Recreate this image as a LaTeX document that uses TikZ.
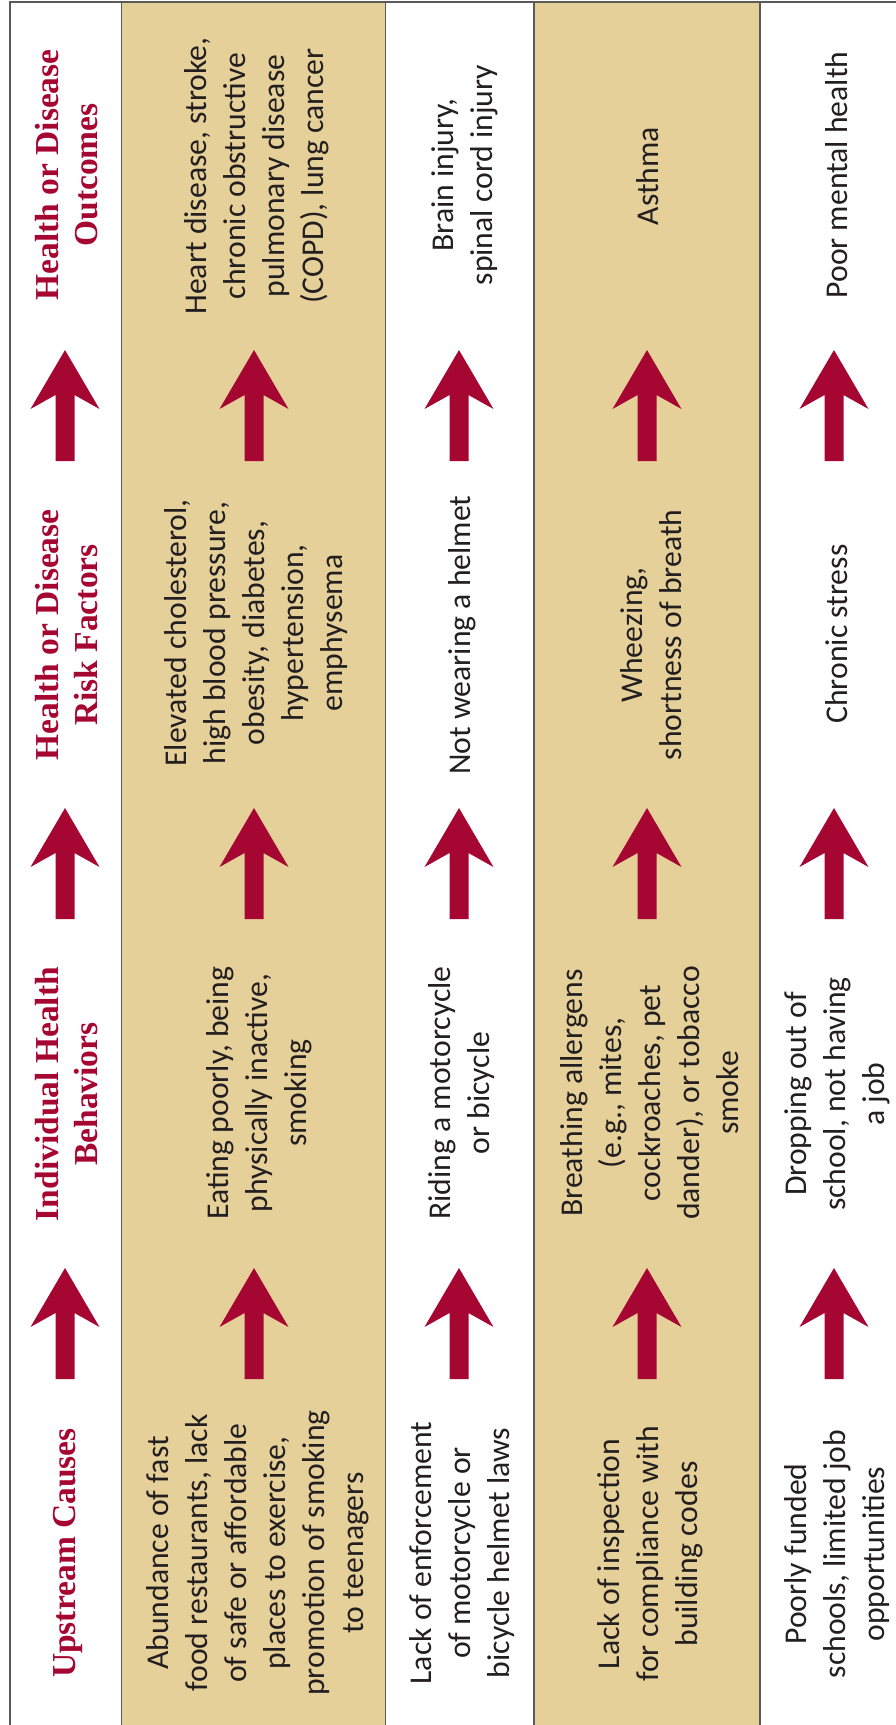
\documentclass[tikz,border=0pt]{standalone}
\usepackage{fontspec}
\setmainfont{Carlito}
\newfontfamily\headfont{Liberation Serif}
\definecolor{tanfill}{RGB}{230,208,153}
\definecolor{arrowred}{RGB}{166,6,50}
\definecolor{gridgray}{RGB}{90,90,90}
\definecolor{bodytext}{RGB}{35,31,32}
\tikzset{
  gridline/.style={draw=gridgray, line width=1.4pt},
  bodytxt/.style={rotate=90, align=center, inner sep=0pt, text=bodytext,
    font=\fontsize{31.7}{39}\selectfont},
  headtxt/.style={rotate=90, align=center, inner sep=0pt, text=arrowred,
    font=\headfont\bfseries\fontsize{33.5}{39}\selectfont},
  uparr/.pic={\fill[arrowred] (0,0) -- (34.5,59) -- (9.5,45) -- (9.5,111)
     -- (-9.5,111) -- (-9.5,45) -- (-34.5,59) -- cycle;}
}
\begin{document}
\begin{tikzpicture}[x=1pt,y=-1pt]
\useasboundingbox (0,0) rectangle (896,1725);
\fill[tanfill] (121.5,2) rectangle (385.5,1725);
\fill[tanfill] (534,2) rectangle (760,1725);
\draw[gridline] (10,1725) -- (10,2) -- (896,2);
\foreach \x in {121.5,385.5,534,760} \draw[gridline] (\x,2) -- (\x,1725);

% header column
\node[headtxt] (h1) at (67,175) {Health or Disease\\Outcomes};
\node[headtxt] (h2) at (67,635) {Health or Disease\\Risk Factors};
\node[headtxt] (h3) at (67,1094) {Individual Health\\Behaviors};
\node[headtxt] (h4) at (68,1553) {Upstream Causes};

% column 2
\node[bodytxt] (a1) at (256.5,176) {Heart disease, stroke,\\chronic obstructive\\pulmonary disease\\(COPD), lung cancer};
\node[bodytxt] (a2) at (256.5,633) {Elevated cholesterol,\\high blood pressure,\\obesity, diabetes,\\hypertension,\\emphysema};
\node[bodytxt] (a3) at (259,1093) {Eating poorly, being\\physically inactive,\\smoking};
\node[bodytxt] (a4) at (258,1553) {Abundance of fast\\food restaurants, lack\\of safe or affordable\\places to exercise,\\promotion of smoking\\to teenagers};

% column 3
\node[bodytxt] (b1) at (465,175) {Brain injury,\\spinal cord injury};
\node[bodytxt] (b2) at (462,635) {Not wearing a helmet};
\node[bodytxt] (b3) at (462,1093) {Riding a motorcycle\\or bicycle};
\node[bodytxt] (b4) at (462,1553) {Lack of enforcement\\of motorcycle or\\bicycle helmet laws};

% column 4
\node[bodytxt] (c1) at (648,176) {Asthma};
\node[bodytxt] (c2) at (651,635) {Wheezing,\\shortness of breath};
\node[bodytxt] (c3) at (650,1093) {Breathing allergens\\(e.g., mites,\\cockroaches, pet\\dander), or tobacco\\smoke};
\node[bodytxt] (c4) at (650,1554) {Lack of inspection\\for compliance with\\building codes};

% column 5
\node[bodytxt] (d1) at (837,175) {Poor mental health};
\node[bodytxt] (d2) at (837,634) {Chronic stress};
\node[bodytxt] (d3) at (837,1094) {Dropping out of\\school, not having\\a job};
\node[bodytxt] (d4) at (837,1554) {Poorly funded\\schools, limited job\\opportunities};

% arrows
\foreach \x in {65,254,459,647,834} {
  \pic at (\x,350) {uparr};
  \pic at (\x,808) {uparr};
  \pic at (\x,1268) {uparr};
}
\end{tikzpicture}
\end{document}
